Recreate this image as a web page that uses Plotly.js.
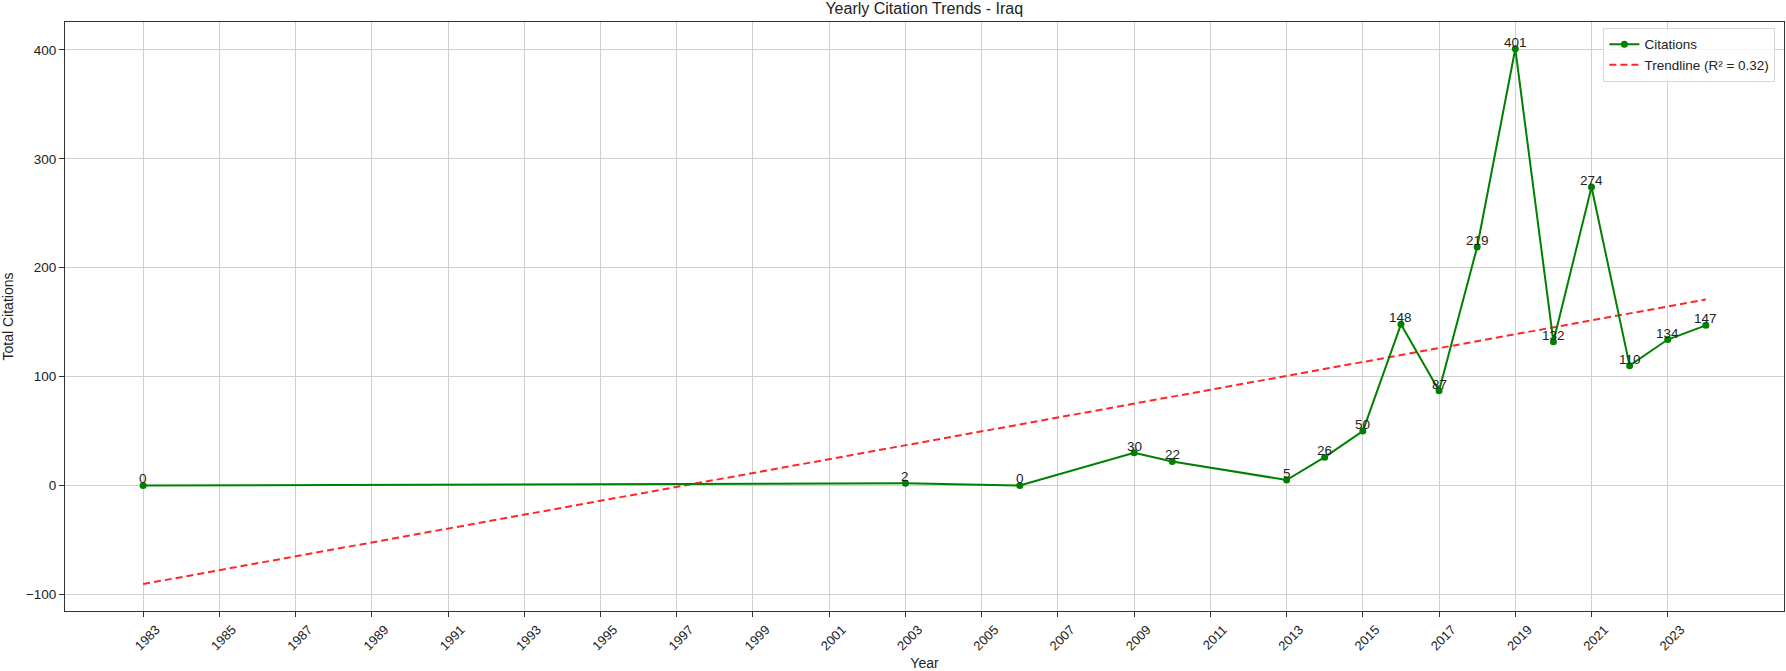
<!DOCTYPE html>
<html>
<head>
<meta charset="utf-8">
<script src="https://cdn.plot.ly/plotly-3.0.1.min.js"></script>
<style>html,body{margin:0;padding:0;background:#fff;}#chart{width:1786px;height:671px;}</style>
</head>
<body>
<div id="chart"></div>
<script>
const years = [1983, 2003, 2006, 2009, 2010, 2013, 2014, 2015, 2016, 2017, 2018, 2019, 2020, 2021, 2022, 2023, 2024];
const citations = [0, 2, 0, 30, 22, 5, 26, 50, 148, 87, 219, 401, 132, 274, 110, 134, 147];
const xTickVals = [1983,1985,1987,1989,1991,1993,1995,1997,1999,2001,2003,2005,2007,2009,2011,2013,2015,2017,2019,2021,2023];
const yTickVals = [-100, 0, 100, 200, 300, 400];
const yTickText = ['−100', '0', '100', '200', '300', '400'];

// least-squares trendline from the data
const n = years.length;
const mx = years.reduce((a,b)=>a+b,0)/n;
const my = citations.reduce((a,b)=>a+b,0)/n;
let sxy = 0, sxx = 0, syy = 0;
for (let i=0;i<n;i++){ sxy += (years[i]-mx)*(citations[i]-my); sxx += (years[i]-mx)**2; syy += (citations[i]-my)**2; }
const slope = sxy/sxx, intercept = my - slope*mx;
const r2 = (sxy*sxy)/(sxx*syy);
const trendX = [years[0], years[n-1]];
const trendY = trendX.map(x => slope*x + intercept);

const font = "Liberation Sans, Arial, sans-serif";
const traces = [
  {
    x: trendX, y: trendY, type: 'scatter', mode: 'lines',
    name: 'Trendline (R² = ' + r2.toFixed(2) + ')',
    line: {color: 'rgba(255,0,0,0.85)', width: 2, dash: '7px,4px'}
  },
  {
    x: years, y: citations, type: 'scatter', mode: 'lines+markers',
    name: 'Citations',
    line: {color: '#008000', width: 2},
    marker: {color: '#008000', size: 7}
  }
];
const labels = years.map((yr, i) => ({
  x: yr, y: citations[i], xref: 'x', yref: 'y', text: String(citations[i]),
  showarrow: false, xanchor: 'center', yanchor: 'bottom', yshift: -3,
  font: {family: font, size: 13.5, color: '#222'}
}));
const layout = {
  width: 1786, height: 671,
  margin: {l: 65, r: 2, t: 22, b: 60},
  paper_bgcolor: '#fff', plot_bgcolor: '#fff',
  font: {family: font, size: 13, color: '#222'},
  title: {text: 'Yearly Citation Trends - Iraq', x: 0.5175, xanchor: 'center', y: 0.988, yanchor: 'middle', font: {family: font, size: 16, color: '#222'}},
  xaxis: {
    range: [1980.95, 2026.05], tickmode: 'array', tickvals: xTickVals, ticktext: xTickVals.map(String),
    tickangle: -45, ticks: 'outside', ticklen: 5, tickcolor: '#333', ticklabelshift: 13,
    showgrid: true, gridcolor: '#d0d0d0', gridwidth: 1, zeroline: false,
    showline: true, linecolor: '#333', linewidth: 1, mirror: true,
    tickfont: {family: font, size: 13, color: '#222'},
    title: {text: 'Year', font: {family: font, size: 14, color: '#222'}, standoff: 5}
  },
  yaxis: {
    range: [-115.3, 425.6], tickmode: 'array', tickvals: yTickVals, ticktext: yTickText,
    ticks: 'outside', ticklen: 5, tickcolor: '#333',
    showgrid: true, gridcolor: '#d0d0d0', gridwidth: 1, zeroline: false,
    showline: true, linecolor: '#333', linewidth: 1, mirror: true,
    tickfont: {family: font, size: 13.5, color: '#222'},
    title: {text: 'Total Citations', font: {family: font, size: 14, color: '#222'}, standoff: 8}
  },
  legend: {
    x: 0.995, xanchor: 'right', y: 0.99, yanchor: 'top', traceorder: 'reversed',
    bgcolor: 'rgba(255,255,255,0.8)', bordercolor: '#d6d6d6', borderwidth: 1,
    font: {family: font, size: 13.5, color: '#222'}
  },
  annotations: labels,
  showlegend: true
};
Plotly.newPlot('chart', traces, layout, {displayModeBar: false, staticPlot: true});
</script>
</body>
</html>
